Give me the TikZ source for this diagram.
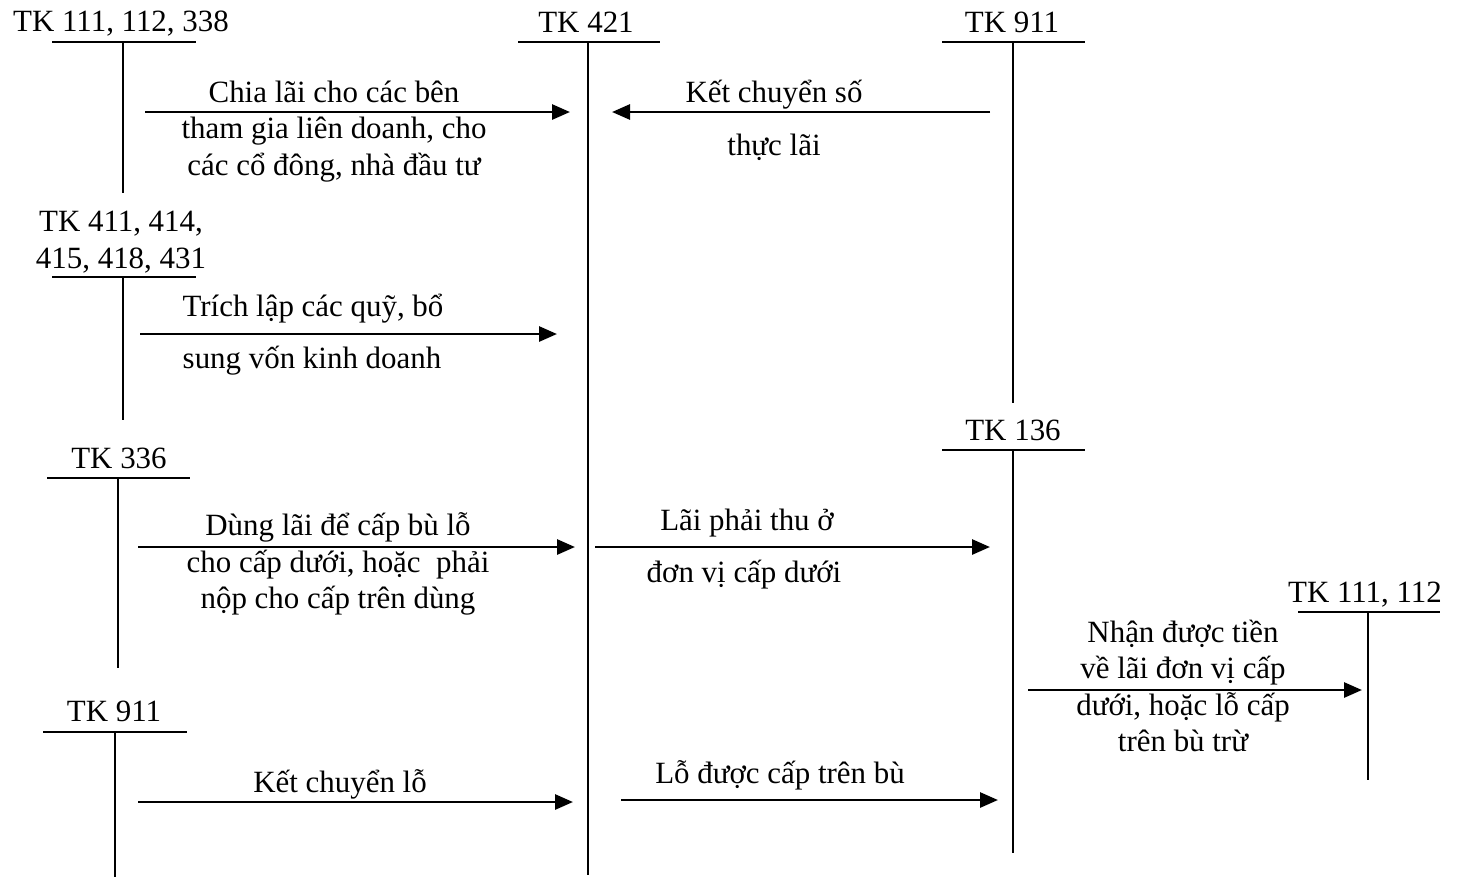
\documentclass[tikz,border=0pt]{standalone}
\usepackage{fontspec}
\setmainfont{Liberation Serif}
\usetikzlibrary{arrows.meta}
\begin{document}
\begin{tikzpicture}[x=0.02cm,y=-0.02cm,
  lbl/.style={font=\fontsize{17.6}{20.5}\selectfont,inner sep=0pt,anchor=base},
  txt/.style={lbl,align=center},
  bar/.style={line width=1.2pt},
  flow/.style={line width=1.6pt,-{Triangle[length=0.36cm,width=0.3cm]}}]
\useasboundingbox (0,0) rectangle (1466,877);
% T accounts
\node[lbl] (tkA) at (121,31) {TK 111, 112, 338};
\draw[bar] (52,42) -- (196,42); \draw[bar] (123,42) -- (123,193);
\node[lbl] (tkB) at (586,32) {TK 421};
\draw[bar] (518,42) -- (660,42); \draw[bar] (588,42) -- (588,875);
\node[lbl] (tkC) at (1012,32) {TK 911};
\draw[bar] (942,42) -- (1085,42); \draw[bar] (1013,42) -- (1013,403);
\node[txt] (tkD) at (121,268) {TK 411, 414,\\415, 418, 431};
\draw[bar] (52,277) -- (196,277); \draw[bar] (123,277) -- (123,420);
\node[lbl] (tkE) at (119,468) {TK 336};
\draw[bar] (47,478) -- (190,478); \draw[bar] (118,478) -- (118,668);
\node[lbl] (tkF) at (1013,440) {TK 136};
\draw[bar] (942,450) -- (1085,450); \draw[bar] (1013,450) -- (1013,853);
\node[lbl] (tkG) at (1365,602) {TK 111, 112};
\draw[bar] (1298,612) -- (1440,612); \draw[bar] (1368,612) -- (1368,780);
\node[lbl] (tkH) at (114,721) {TK 911};
\draw[bar] (43,732) -- (187,732); \draw[bar] (115,732) -- (115,877);
% flows
\coordinate (a1s) at (145,112); \coordinate (a1e) at (570,112);
\draw[flow] (a1s) -- (a1e);
\node[txt] (t1) at (334,175) {Chia lãi cho các bên\\tham gia liên doanh, cho\\các cổ đông, nhà đầu tư};
\coordinate (a2s) at (990,112); \coordinate (a2e) at (612,112);
\draw[flow] (a2s) -- (a2e);
\node[lbl] (t2a) at (774,102) {Kết chuyển số};
\node[lbl] (t2b) at (774,155) {thực lãi};
\coordinate (a3s) at (140,334); \coordinate (a3e) at (557,334);
\draw[flow] (a3s) -- (a3e);
\node[lbl] (t3a) at (313,316) {Trích lập các quỹ, bổ};
\node[lbl] (t3b) at (312,368) {sung vốn kinh doanh};
\coordinate (a4s) at (138,547); \coordinate (a4e) at (575,547);
\draw[flow] (a4s) -- (a4e);
\node[txt] (t4) at (338,608) {Dùng lãi để cấp bù lỗ\\cho cấp dưới, hoặc\ \ phải\\nộp cho cấp trên dùng};
\coordinate (a5s) at (595,547); \coordinate (a5e) at (990,547);
\draw[flow] (a5s) -- (a5e);
\node[lbl] (t5a) at (747,530) {Lãi phải thu ở};
\node[lbl] (t5b) at (744,582) {đơn vị cấp dưới};
\coordinate (a6s) at (1028,690); \coordinate (a6e) at (1362,690);
\draw[flow] (a6s) -- (a6e);
\node[txt] (t6) at (1183,751) {Nhận được tiền\\về lãi đơn vị cấp\\dưới, hoặc lỗ cấp\\trên bù trừ};
\coordinate (a7s) at (138,802); \coordinate (a7e) at (573,802);
\draw[flow] (a7s) -- (a7e);
\node[lbl] (t7) at (340,792) {Kết chuyển lỗ};
\coordinate (a8s) at (621,800); \coordinate (a8e) at (998,800);
\draw[flow] (a8s) -- (a8e);
\node[lbl] (t8) at (780,783) {Lỗ được cấp trên bù};
\end{tikzpicture}
\end{document}
